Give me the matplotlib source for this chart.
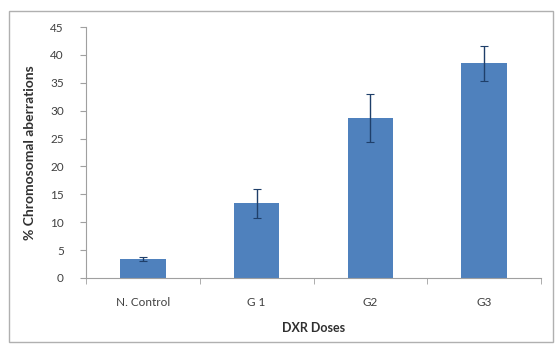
import matplotlib
matplotlib.use("Agg")
import matplotlib.pyplot as plt
from matplotlib.patches import Rectangle

plt.rcParams["font.family"] = ["Lato", "DejaVu Sans"]

categories = ["N. Control", "G 1", "G2", "G3"]
values = [3.4, 13.4, 28.7, 38.5]
errors = [0.3, 2.6, 4.3, 3.1]
yticks = [0, 5, 10, 15, 20, 25, 30, 35, 40, 45]

fig = plt.figure(figsize=(5.55, 3.51), dpi=100)
fig.patch.set_facecolor("white")
fig.add_artist(Rectangle((9/555, 1 - 342/351), (553-9)/555, (342-11)/351,
                         transform=fig.transFigure, fill=False,
                         edgecolor="#b0b0b0", linewidth=1.0))

ax = fig.add_axes([86/555, 1 - 278/351, (541-86)/555, (278-27)/351])
x = list(range(len(categories)))
ax.bar(x, values, width=0.4, color="#4F81BD", zorder=2)
ax.errorbar(x, values, yerr=errors, fmt="none", ecolor="#1f3f6a",
            elinewidth=1.0, capsize=3, capthick=0.8, zorder=3)

ax.set_xlim(-0.5, len(categories) - 0.5)
ax.set_ylim(0, 45)
ax.set_yticks(yticks)
ax.set_xticks(x)
ax.set_xticklabels(categories)
ax.set_xticks([i + 0.5 for i in range(-1, len(categories))], minor=True)
ax.tick_params(axis="x", which="major", length=0, labelsize=8.5,
               colors="#404040", pad=14)
ax.tick_params(axis="x", which="minor", length=4, color="#a0a0a0")
ax.tick_params(axis="y", length=4, color="#a0a0a0", labelsize=8.5,
               labelcolor="#404040", pad=12)
for s in ["top", "right"]:
    ax.spines[s].set_visible(False)
for s in ["left", "bottom"]:
    ax.spines[s].set_color("#a0a0a0")
    ax.spines[s].set_linewidth(0.8)

ax.set_ylabel("% Chromosomal aberrations", fontsize=10, fontweight="bold",
              color="#303030", labelpad=10)
ax.set_xlabel("DXR Doses", fontsize=9, fontweight="bold", color="#303030",
              labelpad=10)

fig.savefig("out.png", dpi=100)
